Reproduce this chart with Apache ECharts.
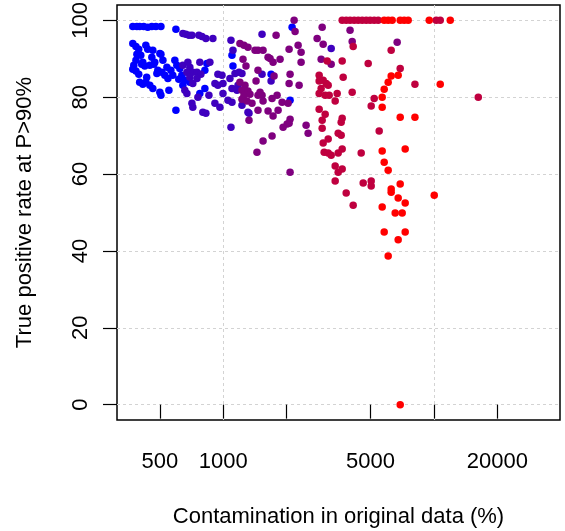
<!DOCTYPE html>
<html>
<head>
<meta charset="utf-8">
<script src="https://cdn.jsdelivr.net/npm/echarts@6/dist/echarts.min.js"></script>
<style>
  html, body { margin: 0; padding: 0; background: #fff; }
  #chart { width: 565px; height: 531px; }
</style>
</head>
<body>
<div id="chart"></div>
<script>
// axis ticks
const xTicks = [500, 1000, 2000, 5000, 10000, 20000];
const xLabels = [500, 1000, 5000, 20000];
const xGrid = [1000, 10000];
const yTicks = [0, 20, 40, 60, 80, 100];

// [contamination %, true positive rate] per colour group
const blueGroup = [
  [372, 98.4], [389, 98.4], [401, 98.4], [419, 98.4], [438, 98.2], [458, 98.4], [479, 98.4], [506, 98.4], [596, 97.7],
  [372, 94.0], [385, 93.2], [397, 92.5], [429, 93.5], [438, 92.5], [463, 92.2], [500, 91.4], [389, 91.2], [406, 90.9],
  [458, 90.4], [506, 91.2], [415, 89.1], [385, 89.6], [376, 88.3], [410, 88.6], [424, 88.1], [448, 88.3], [473, 89.1],
  [517, 89.6], [468, 88.6], [489, 87.0], [511, 86.5], [528, 85.7], [546, 84.9], [540, 87.8], [372, 87.3], [385, 86.8],
  [397, 86.0], [433, 85.2], [484, 86.2], [576, 85.7], [564, 87.0], [589, 89.6], [602, 88.3], [622, 87.5], [636, 85.7],
  [615, 84.7], [401, 83.9], [415, 83.4], [429, 83.9], [448, 83.1], [463, 82.3], [500, 81.3], [506, 80.5], [552, 81.8],
  [643, 83.1], [657, 84.4], [694, 83.9], [596, 76.6], [818, 87.0], [836, 88.8], [818, 82.3], [774, 81.0], [1100, 90.9],
  [1112, 88.1], [1687, 86.0], [2123, 98.2], [2076, 79.2]
];
const violetGroup = [
  [643, 96.6], [664, 96.4], [687, 96.1], [710, 96.1], [766, 96.1], [792, 95.8], [827, 95.3], [893, 95.3], [1528, 96.4],
  [1088, 94.8], [1112, 92.2], [3254, 92.7], [643, 88.3], [679, 89.1], [694, 87.8], [672, 86.5], [717, 86.5], [750, 86.5],
  [783, 86.0], [774, 89.1], [864, 89.1], [694, 85.2], [750, 84.9], [717, 83.6], [657, 81.8], [672, 81.0], [758, 80.0],
  [710, 78.4], [717, 77.4], [800, 76.1], [827, 75.8], [855, 80.5], [913, 78.4], [964, 77.4], [913, 83.6], [943, 83.1],
  [997, 83.6], [997, 81.0], [1053, 79.2], [1100, 78.7], [1227, 77.9], [1100, 82.3], [1162, 81.8], [1175, 83.1],
  [1076, 84.9], [1137, 86.2], [943, 86.0], [986, 85.7], [1188, 86.5], [1227, 86.2], [1528, 86.0], [1687, 84.2],
  [1310, 76.1], [1325, 75.8], [1088, 72.2]
];
const purpleGroup = [
  [2170, 100], [2193, 97.1], [1782, 96.1], [2791, 95.3], [2949, 98.2], [4000, 97.4], [2981, 93.8], [4094, 94.5],
  [6695, 94.3], [2916, 89.9], [3254, 88.6], [2474, 72.7], [2529, 70.6], [2076, 60.5], [1200, 94.0], [1254, 93.5],
  [1310, 93.0], [1415, 92.2], [1462, 92.2], [1545, 92.2], [1668, 90.1], [1724, 89.1], [1861, 89.9], [2054, 92.5],
  [2267, 93.5], [2342, 91.7], [2342, 89.1], [1632, 90.4], [1241, 89.9], [1282, 88.1], [1462, 87.0], [1743, 85.5],
  [1431, 84.2], [2076, 86.0], [2054, 83.6], [2292, 83.1], [1200, 83.9], [1268, 83.1], [1227, 81.8], [1310, 81.6],
  [1254, 80.5], [1339, 80.8], [1227, 79.5], [1296, 79.0], [1369, 78.4], [1462, 80.5], [1528, 80.5], [1545, 79.0],
  [1705, 79.7], [1801, 80.5], [1903, 78.7], [2032, 78.4], [1462, 76.6], [1632, 76.4], [1821, 76.6], [1325, 74.0],
  [2076, 74.3], [2010, 73.0], [1924, 72.2], [2054, 73.2], [1724, 75.1], [1705, 69.9], [1545, 68.6], [1446, 65.7],
  [1495, 81.3]
];
const crimsonGroup = [
  [3670, 100], [3834, 100], [4000, 100], [4185, 100], [4372, 100], [4567, 100], [4772, 100], [4980, 100], [5208, 100],
  [5440, 100], [10260, 100], [10720, 100], [4139, 93.2], [6270, 92.2], [3115, 89.4], [3670, 89.4], [4877, 88.8],
  [6920, 87.5], [2853, 85.7], [3710, 85.2], [8130, 83.4], [16250, 80.0], [5208, 79.7], [5040, 77.7], [2853, 84.2],
  [2981, 84.4], [3081, 83.6], [3149, 83.1], [2916, 82.3], [2853, 81.0], [3047, 80.5], [3183, 80.5], [3474, 81.0],
  [4094, 81.3], [3399, 79.0], [2853, 76.9], [3047, 75.6], [2949, 74.0], [3670, 74.5], [3630, 73.5], [2949, 71.9],
  [3513, 70.6], [3630, 70.1], [3149, 69.1], [2981, 68.1], [3014, 65.7], [3149, 65.5], [3254, 64.9], [3513, 65.5],
  [3670, 66.5], [4518, 65.5], [5500, 71.2], [3399, 62.1], [3513, 60.5], [3670, 61.3], [3399, 58.2], [4618, 57.7],
  [5040, 58.2], [5040, 56.9], [3834, 55.1], [4139, 51.9]
];
const redGroup = [
  [5809, 100], [6068, 100], [6339, 100], [6920, 100], [7228, 100], [7551, 100], [9505, 100], [11960, 100],
  [6270, 85.5], [6769, 85.7], [6068, 83.9], [5809, 82.1], [10720, 83.4], [5683, 80.0], [5683, 77.4], [6920, 74.8],
  [8130, 74.8], [7308, 66.5], [5683, 66.0], [5809, 63.1], [6068, 61.0], [6920, 57.4], [6270, 56.1], [6270, 55.3],
  [6769, 53.8], [7308, 52.5], [5683, 51.4], [6550, 49.9], [7072, 49.9], [5809, 44.9], [7308, 44.9], [6769, 42.9],
  [6068, 38.7], [10040, 54.5], [6920, 0]
];

const groups = [
  { data: blueGroup, color: '#0000FF' },
  { data: violetGroup, color: '#3F00BF' },
  { data: purpleGroup, color: '#7F007F' },
  { data: crimsonGroup, color: '#BF003F' },
  { data: redGroup, color: '#FF0000' }
];

const font = 'Liberation Sans, Arial, Helvetica, sans-serif';
const gridLine = { show: true, lineStyle: { color: '#d3d3d3', width: 1, type: [3, 3] } };
const blackLine = { color: '#000', width: 1.2 };

const chart = echarts.init(document.getElementById('chart'));
chart.setOption({
  animation: false,
  backgroundColor: '#fff',
  textStyle: { fontFamily: font },
  grid: {
    left: 117, right: 5, top: 5, bottom: 111,
    containLabel: false, outerBoundsMode: 'none',
    show: true, borderColor: '#000', borderWidth: 1.5, backgroundColor: 'transparent'
  },
  xAxis: [
    {
      type: 'log', logBase: 10, min: 313, max: 39700,
      name: 'Contamination in original data (%)',
      nameLocation: 'middle', nameGap: 86,
      nameTextStyle: { fontSize: 22, color: '#000', fontFamily: font },
      axisLine: { show: false },
      axisTick: { show: true, length: 14, customValues: xTicks, lineStyle: blackLine },
      axisLabel: {
        customValues: xLabels, margin: 31, fontSize: 22, color: '#000', fontFamily: font,
        formatter: v => String(v)
      },
      splitLine: { show: false }
    },
    {
      type: 'log', logBase: 10, min: 313, max: 39700,
      axisLine: { show: false },
      axisTick: { show: false, customValues: xGrid },
      axisLabel: { show: false },
      splitLine: gridLine
    }
  ],
  yAxis: {
    type: 'value', min: -4, max: 104,
    name: 'True positive rate at P>90%',
    nameLocation: 'middle', nameGap: 81,
    nameTextStyle: { fontSize: 22, color: '#000', fontFamily: font },
    axisLine: { show: false },
    axisTick: { show: true, length: 14, customValues: yTicks, lineStyle: blackLine },
    axisLabel: {
      customValues: yTicks, rotate: 90, margin: 25, fontSize: 22, color: '#000', fontFamily: font
    },
    splitLine: gridLine
  },
  series: groups.map(g => ({
    type: 'scatter',
    xAxisIndex: 0,
    data: g.data,
    symbol: 'circle',
    symbolSize: 7.5,
    itemStyle: { color: g.color, opacity: 1 }
  }))
});
</script>
</body>
</html>
